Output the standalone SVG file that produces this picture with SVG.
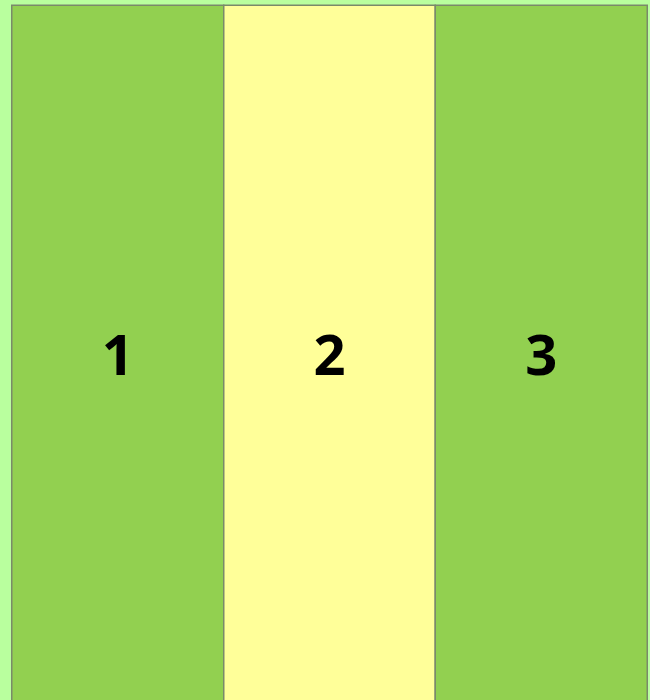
<svg xmlns="http://www.w3.org/2000/svg" width="650" height="700" viewBox="0 0 650 700">
<style>
.col{stroke:#7a8a6a;stroke-width:1.5}
.g{fill:#92d050}
.y{fill:#ffff99}
.lbl{font-family:"Open Sans","Noto Sans","DejaVu Sans",sans-serif;font-weight:bold;font-size:56px;fill:#000;text-anchor:middle}
</style>
<rect x="0" y="0" width="650" height="700" fill="#b9ff9e"/>
<g id="col1"><rect class="col g" x="11.75" y="5.25" width="212" height="700"/><text class="lbl" x="117.75" y="375">1</text></g>
<g id="col2"><rect class="col y" x="223.75" y="5.25" width="211.5" height="700"/><text class="lbl" x="329.5" y="375">2</text></g>
<g id="col3"><rect class="col g" x="435.25" y="5.25" width="212" height="700"/><text class="lbl" x="541.25" y="375">3</text></g>
<g id="connectors"/>
</svg>
